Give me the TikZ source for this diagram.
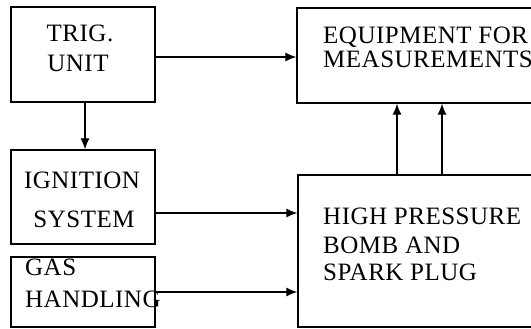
\documentclass[tikz,border=0pt]{standalone}
\usepackage{fontspec}
\setmainfont[LetterSpace=2]{Liberation Serif}
\usetikzlibrary{arrows.meta}
\begin{document}
\begin{tikzpicture}[x=1pt,y=-1pt,
  box/.style={draw,line width=1.3pt,inner sep=0pt,minimum width=#1},
  lbl/.style={inner sep=0pt,font=\fontsize{25}{29}\selectfont},
  arr/.style={line width=1.2pt,-{Latex[length=11pt,width=9pt]}}]
\useasboundingbox (0,0) rectangle (531,329);
\clip (0,0) rectangle (531,329);
\node[box=144pt,minimum height=95pt] (trig) at (83,54.5) {};
\node[box=144pt,minimum height=94pt] (ign) at (83,197) {};
\node[box=144pt,minimum height=70pt] (gas) at (83,292) {};
\node[box=250pt,minimum height=95pt] (eq) at (422,55.5) {};
\node[box=250pt,minimum height=152pt] (hp) at (423,251) {};
% texts
\node[lbl,anchor=base] (t1) at (80,42) {TRIG.};
\node[lbl,anchor=base] (t2) at (78,72) {UNIT};
\node[lbl,anchor=base] (i1) at (82,188) {IGNITION};
\node[lbl,anchor=base] (i2) at (84,227) {SYSTEM};
\node[lbl,anchor=base west] (g1) at (25,275) {GAS};
\node[lbl,anchor=base west] (g2) at (25,307) {HANDLING};
\node[lbl,anchor=base west] (e1) at (323,44) {EQUIPMENT FOR};
\node[lbl,anchor=base west] (e2) at (323,68) {MEASUREMENTS};
\node[lbl,anchor=base west] (h1) at (323,225) {HIGH PRESSURE};
\node[lbl,anchor=base west] (h2) at (323,253) {BOMB AND};
\node[lbl,anchor=base west] (h3) at (323,280) {SPARK PLUG};
% connectors
\draw[arr] (trig.east |- 0,57) -- (eq.west |- 0,57);
\draw[arr] (trig.south -| 85,0) -- (ign.north -| 85,0);
\draw[arr] (ign.east |- 0,213) -- (hp.west |- 0,213);
\draw[arr] (gas.east |- 0,292) -- (hp.west |- 0,292);
\draw[arr] (hp.north -| 397,0) -- (eq.south -| 397,0);
\draw[arr] (hp.north -| 442,0) -- (eq.south -| 442,0);
\end{tikzpicture}
\end{document}
